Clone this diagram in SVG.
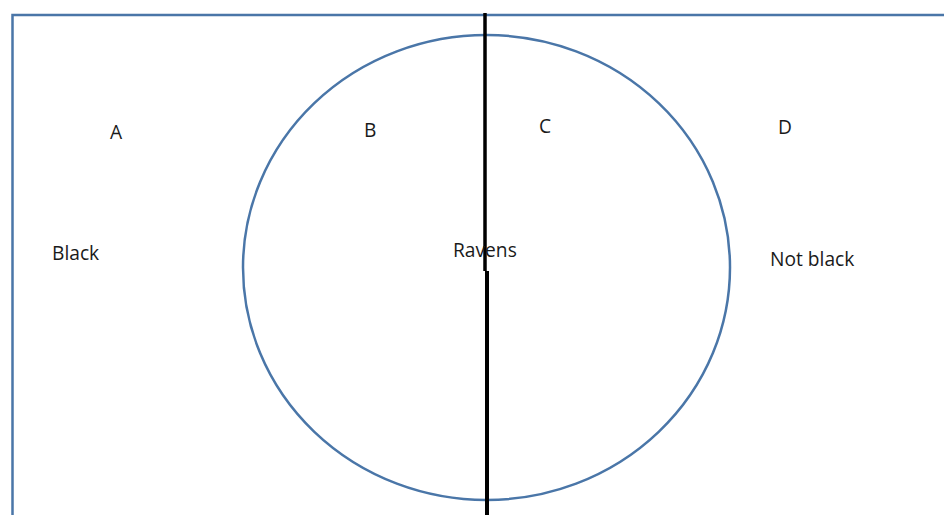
<svg xmlns="http://www.w3.org/2000/svg" width="944" height="515" viewBox="0 0 944 515">
<style>
.t{font-family:"Open Sans","Liberation Sans",sans-serif;font-size:19.2px;fill:#1a1a1a}
.b{fill:none;stroke:#4a76a8;stroke-width:2.5}
</style>
<rect width="944" height="515" fill="#fff"/>
<g id="universe"><path class="b" d="M12.5,530 V15 H960"/></g>
<g id="ravens"><ellipse class="b" cx="486.5" cy="267.5" rx="243.5" ry="232.5"/></g>
<g id="connectors">
<path d="M485,13 V271" stroke="#000" stroke-width="3.5" fill="none"/>
<path d="M487,271 V515" stroke="#000" stroke-width="4" fill="none"/>
</g>
<g id="labels">
<text class="t" x="110" y="139">A</text>
<text class="t" x="364" y="137">B</text>
<text class="t" x="539" y="133">C</text>
<text class="t" x="778" y="134">D</text>
<text class="t" x="52" y="260">Black</text>
<text class="t" x="453" y="257">Ravens</text>
<text class="t" x="770" y="266">Not black</text>
</g>
</svg>
